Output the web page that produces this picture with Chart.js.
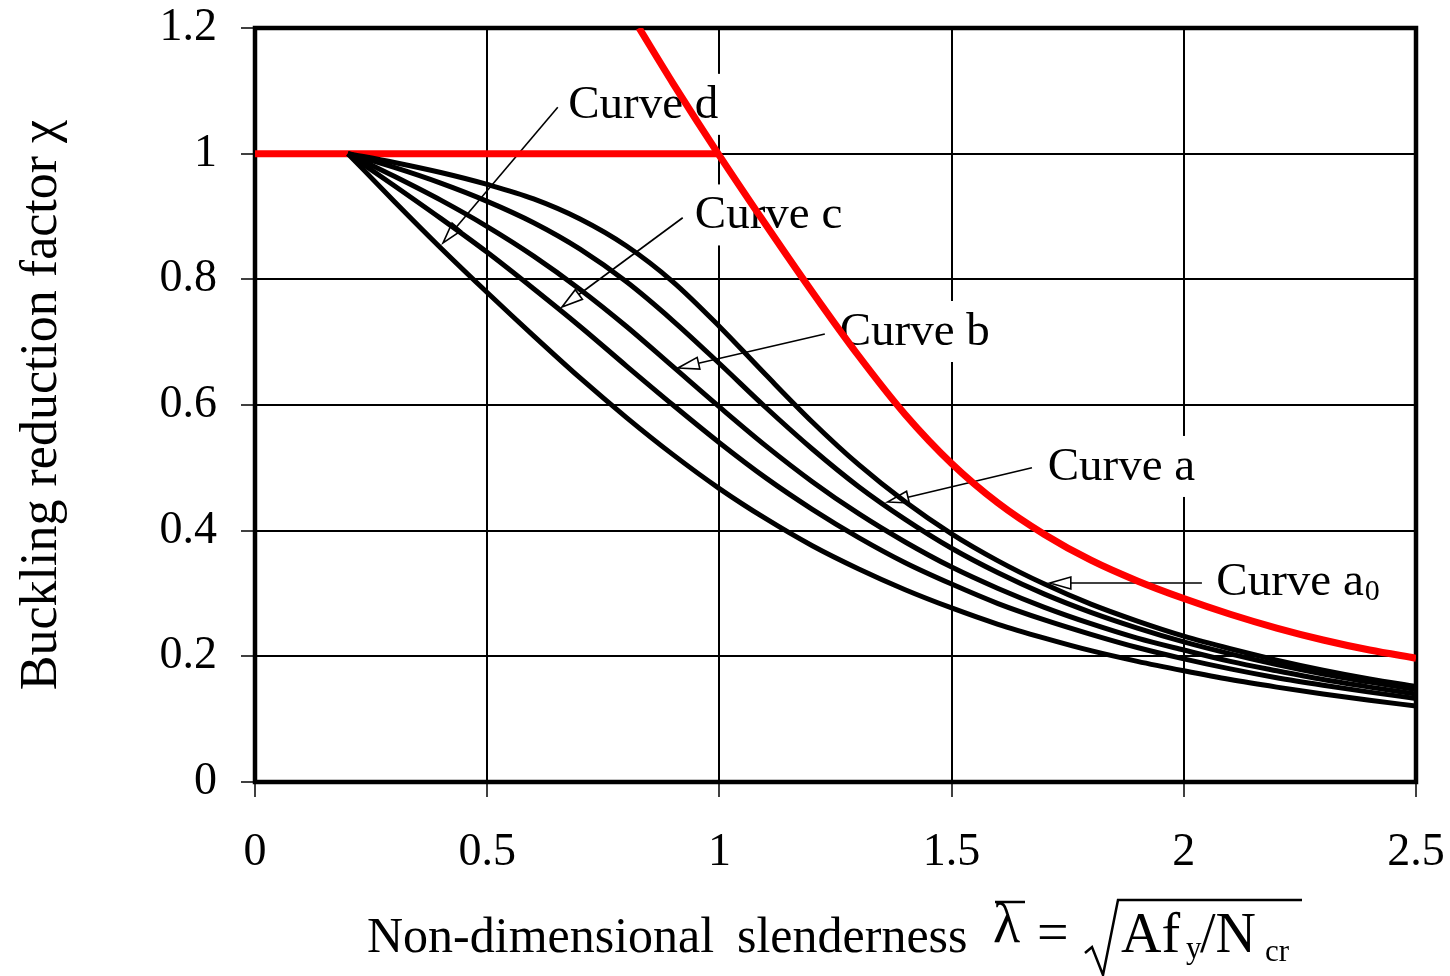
<!DOCTYPE html>
<html>
<head>
<meta charset="utf-8">
<script src="https://cdn.jsdelivr.net/npm/chart.js@4/dist/chart.umd.min.js"></script>
<style>
  html, body { margin: 0; padding: 0; background: #fff; }
  #wrap { width: 1450px; height: 976px; }
</style>
</head>
<body>
<div id="wrap"><canvas id="chart"></canvas></div>
<script>
// ── DATA
const slenderness = [0.2, 0.3, 0.4, 0.5, 0.6, 0.7, 0.8, 0.9, 1.0, 1.1, 1.2, 1.3,
  1.4, 1.5, 1.6, 1.7, 1.8, 1.9, 2.0, 2.1, 2.2, 2.3, 2.4, 2.5];
const curveA0 = [1.0, 0.986, 0.970, 0.951, 0.928, 0.896, 0.853, 0.796, 0.725, 0.648, 0.573, 0.505,
  0.446, 0.395, 0.352, 0.315, 0.283, 0.256, 0.232, 0.212, 0.194, 0.178, 0.164, 0.152];
const curveA = [1.0, 0.978, 0.953, 0.924, 0.890, 0.848, 0.796, 0.734, 0.666, 0.596, 0.530, 0.470,
  0.418, 0.372, 0.333, 0.299, 0.270, 0.245, 0.223, 0.204, 0.187, 0.172, 0.159, 0.147];
const curveB = [1.0, 0.964, 0.926, 0.884, 0.837, 0.784, 0.725, 0.661, 0.597, 0.535, 0.478, 0.427,
  0.382, 0.342, 0.308, 0.278, 0.252, 0.229, 0.210, 0.192, 0.177, 0.163, 0.151, 0.140];
const curveC = [1.0, 0.949, 0.897, 0.843, 0.785, 0.725, 0.662, 0.600, 0.540, 0.484, 0.434, 0.389,
  0.349, 0.315, 0.284, 0.258, 0.235, 0.214, 0.196, 0.180, 0.166, 0.154, 0.143, 0.133];
const curveD = [1.0, 0.924, 0.850, 0.779, 0.710, 0.643, 0.580, 0.521, 0.467, 0.419, 0.376, 0.339,
  0.306, 0.277, 0.251, 0.229, 0.209, 0.192, 0.177, 0.163, 0.151, 0.140, 0.130, 0.121];

// red plateau + elastic limit line
const plateauX = [0, 0.997];
const plateauY = [1.0, 1.0];
const limitX = [0.827, 0.9, 1.0, 1.1, 1.2, 1.3, 1.4, 1.5, 1.6, 1.7, 1.8, 1.9,
  2.0, 2.1, 2.2, 2.3, 2.4, 2.5];
const limitY = [1.2, 1.112, 0.997, 0.887, 0.780, 0.678, 0.585, 0.507, 0.444, 0.394, 0.353, 0.320,
  0.292, 0.267, 0.245, 0.226, 0.210, 0.197];

const xTicks = [0, 0.5, 1, 1.5, 2, 2.5];
const yTicks = [0, 0.2, 0.4, 0.6, 0.8, 1, 1.2];

// curve labels with leader arrows (data units)
const curveLabels = [
  { text: "Curve d", sub: "", at: [0.6745, 1.057], from: [0.652, 1.074], tip: [0.405, 0.858] },
  { text: "Curve c", sub: "", at: [0.947, 0.881], from: [0.921, 0.898], tip: [0.661, 0.756] },
  { text: "Curve b", sub: "", at: [1.259, 0.6955], from: [1.227, 0.713], tip: [0.911, 0.659] },
  { text: "Curve a", sub: "", at: [1.707, 0.4807], from: [1.673, 0.500], tip: [1.362, 0.4456] },
  { text: "Curve a", sub: "0", at: [2.070, 0.2976], from: [2.039, 0.3167], tip: [1.7115, 0.3167] },
];

const SERIF = "'Liberation Serif', 'Times New Roman', serif";

const toPoints = (xs, ys) => xs.map((x, i) => ({ x, y: ys[i] }));

function blackCurve(label, values) {
  return {
    label,
    data: toPoints(slenderness, values),
    borderColor: "#000",
    borderWidth: 5,
    pointRadius: 0,
    cubicInterpolationMode: "monotone",
  };
}

// keep the plot frame where the figure has it
function noAutoPadding(s) {
  s.paddingTop = 0;
  s.paddingBottom = 0;
  s.paddingLeft = 0;
  s.paddingRight = 0;
}

// ── LABELS, FRAME AND AXIS TITLES
const decorations = {
  id: "decorations",
  beforeDatasetsDraw(chart) {
    const { ctx, chartArea: a, scales: { x, y } } = chart;
    ctx.save();

    curveLabels.forEach((l) => {
      const tx = x.getPixelForValue(l.at[0]);
      const ty = y.getPixelForValue(l.at[1]);
      ctx.font = `47px ${SERIF}`;
      const w = ctx.measureText(l.text).width;
      ctx.font = `30px ${SERIF}`;
      const ws = l.sub ? ctx.measureText(l.sub).width : 0;

      ctx.fillStyle = "#fff";
      ctx.fillRect(tx - 8, ty - 44, w + ws + 16, 61);

      ctx.fillStyle = "#000";
      ctx.textAlign = "left";
      ctx.textBaseline = "alphabetic";
      ctx.font = `47px ${SERIF}`;
      ctx.fillText(l.text, tx, ty);
      if (l.sub) {
        ctx.font = `30px ${SERIF}`;
        ctx.fillText(l.sub, tx + w + 1, ty + 5);
      }

      // leader line with hollow arrowhead
      const x0 = x.getPixelForValue(l.from[0]);
      const y0 = y.getPixelForValue(l.from[1]);
      const x1 = x.getPixelForValue(l.tip[0]);
      const y1 = y.getPixelForValue(l.tip[1]);
      const ang = Math.atan2(y1 - y0, x1 - x0);
      const len = 21, half = 6;
      const bx = x1 - Math.cos(ang) * len;
      const by = y1 - Math.sin(ang) * len;

      ctx.strokeStyle = "#000";
      ctx.lineWidth = 1.6;
      ctx.beginPath();
      ctx.moveTo(x0, y0);
      ctx.lineTo(bx, by);
      ctx.stroke();

      ctx.beginPath();
      ctx.moveTo(x1, y1);
      ctx.lineTo(bx + Math.sin(ang) * half, by - Math.cos(ang) * half);
      ctx.lineTo(bx - Math.sin(ang) * half, by + Math.cos(ang) * half);
      ctx.closePath();
      ctx.fillStyle = "#fff";
      ctx.fill();
      ctx.stroke();
    });

    // heavy plot frame
    ctx.strokeStyle = "#000";
    ctx.lineWidth = 4.5;
    ctx.strokeRect(a.left, a.top, a.right - a.left, a.bottom - a.top);
    ctx.restore();
  },
  afterDraw(chart) {
    const { ctx } = chart;
    ctx.save();
    ctx.fillStyle = "#000";
    ctx.strokeStyle = "#000";
    ctx.textBaseline = "alphabetic";

    // y-axis title
    ctx.save();
    ctx.translate(56, 405);
    ctx.rotate(-Math.PI / 2);
    ctx.textAlign = "center";
    ctx.font = `52px ${SERIF}`;
    ctx.fillText("Buckling reduction factor χ", 0, 0);
    ctx.restore();

    // x-axis title:  Non-dimensional slenderness  λ̄ = √(Af_y / N_cr)
    ctx.textAlign = "left";
    ctx.font = `50px ${SERIF}`;
    ctx.fillText("Non-dimensional", 367, 952);
    ctx.fillText("slenderness", 737, 952);
    ctx.font = `56px ${SERIF}`;
    ctx.fillText("λ", 993, 942);
    ctx.fillText("=", 1037, 951);
    ctx.fillText("Af", 1121, 952);
    ctx.fillText("/N", 1200, 952);
    ctx.font = `31px ${SERIF}`;
    ctx.fillText("y", 1186, 958);
    ctx.fillText("cr", 1265, 961);

    ctx.lineWidth = 2.5;
    ctx.beginPath();
    ctx.moveTo(995, 902);
    ctx.lineTo(1025, 902);
    ctx.stroke();

    ctx.beginPath();
    ctx.moveTo(1085, 953);
    ctx.lineTo(1092, 947);
    ctx.lineTo(1103, 975);
    ctx.lineTo(1118, 900);
    ctx.lineTo(1302, 900);
    ctx.stroke();
    ctx.restore();
  },
};

new Chart(document.getElementById("chart"), {
  type: "line",
  data: {
    datasets: [
      blackCurve("Curve a0", curveA0),
      blackCurve("Curve a", curveA),
      blackCurve("Curve b", curveB),
      blackCurve("Curve c", curveC),
      blackCurve("Curve d", curveD),
      {
        label: "Plateau",
        data: toPoints(plateauX, plateauY),
        borderColor: "#ff0000",
        borderWidth: 7,
        pointRadius: 0,
      },
      {
        label: "Limit",
        data: toPoints(limitX, limitY),
        borderColor: "#ff0000",
        borderWidth: 7,
        pointRadius: 0,
        cubicInterpolationMode: "monotone",
      },
    ],
  },
  options: {
    responsive: true,
    maintainAspectRatio: false,
    animation: false,
    layout: { padding: { top: 28, right: 34, left: 0, bottom: 0 } },
    plugins: { legend: { display: false }, tooltip: { enabled: false } },
    scales: {
      x: {
        type: "linear",
        min: 0,
        max: 2.5,
        afterBuildTicks: (s) => { s.ticks = xTicks.map((v) => ({ value: v })); },
        afterFit: (s) => { s.height = 194; noAutoPadding(s); },
        ticks: {
          font: { family: SERIF, size: 46 },
          color: "#000",
          padding: 28,
          maxRotation: 0,
          callback: (v) => String(v),
        },
        grid: { color: "#000", lineWidth: 2, tickLength: 15, tickWidth: 1.5, tickColor: "#000" },
        border: { display: false },
      },
      y: {
        type: "linear",
        min: 0,
        max: 1.2,
        afterBuildTicks: (s) => { s.ticks = yTicks.map((v) => ({ value: v })); },
        afterFit: (s) => { s.width = 255; noAutoPadding(s); },
        ticks: {
          font: { family: SERIF, size: 46 },
          color: "#000",
          padding: 24,
          callback: (v) => String(v),
        },
        grid: { color: "#000", lineWidth: 2, tickLength: 14, tickWidth: 1.5, tickColor: "#000" },
        border: { display: false },
      },
    },
  },
  plugins: [decorations],
});
</script>
</body>
</html>
